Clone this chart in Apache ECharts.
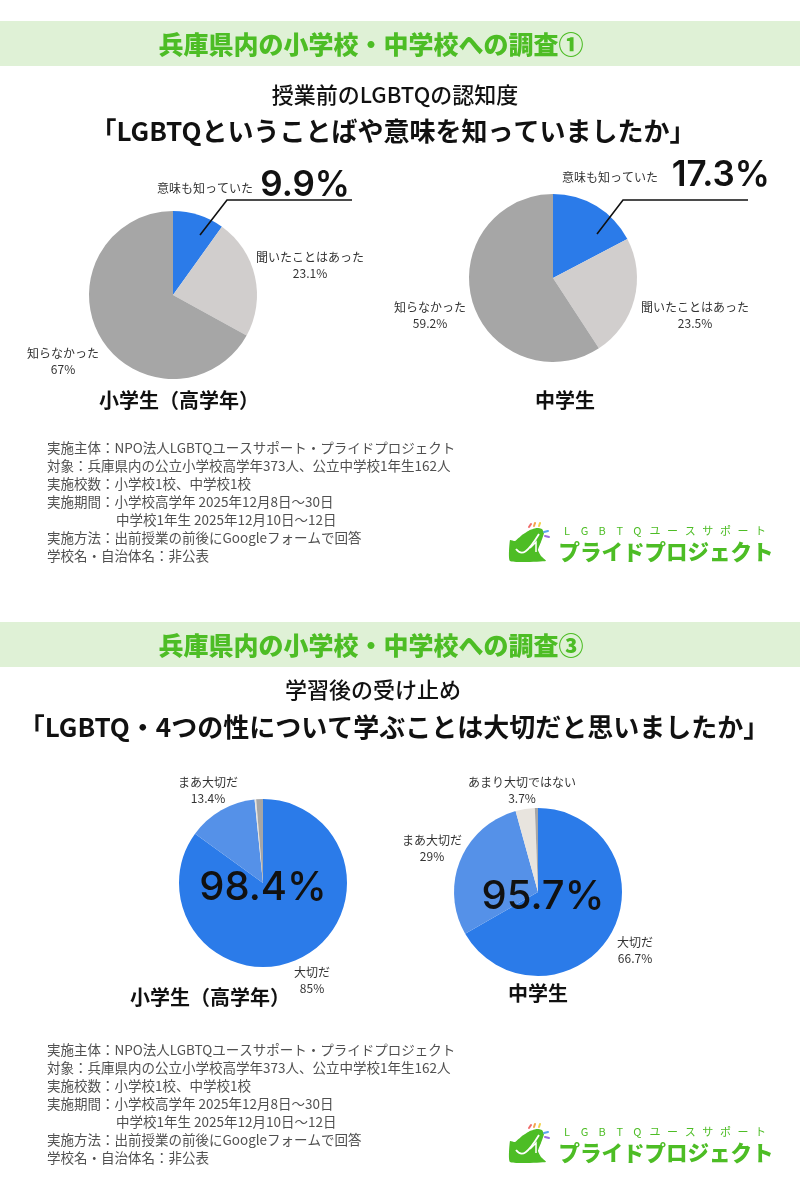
<!DOCTYPE html>
<html><head><meta charset="utf-8">
<script src="https://cdn.jsdelivr.net/npm/echarts@6/dist/echarts.min.js"></script>
<style>html,body{margin:0;padding:0;background:#fff}#c{width:800px;height:1200px}</style>
</head><body><div id="c"></div>
<script>
// ---- data ----
const awarenessNames = ['意味も知っていた', '聞いたことはあった', '知らなかった'];
const awarenessElementary = [9.9, 23.1, 67];
const awarenessJunior = [17.3, 23.5, 59.2];
const importanceNames = ['大切だ', 'まあ大切だ', 'あまり大切ではない', '大切ではない'];
const importanceElementary = [85, 13.4, 0.3, 1.3];
const importanceJunior = [66.7, 29, 3.7, 0.6];
const groupNames = ['小学生（高学年）', '中学生'];
const headerTitles = ['兵庫県内の小学校・中学校への調査①', '兵庫県内の小学校・中学校への調査③'];
const subTitles = ['授業前のLGBTQの認知度', '学習後の受け止め'];
const questions = ['「LGBTQということばや意味を知っていましたか」', '「LGBTQ・4つの性について学ぶことは大切だと思いましたか」'];
const noteLines = [
  '実施主体：NPO法人LGBTQユースサポート・プライドプロジェクト',
  '対象：兵庫県内の公立小学校高学年373人、公立中学校1年生162人',
  '実施校数：小学校1校、中学校1校',
  '実施期間：小学校高学年 2025年12月8日〜30日',
  '中学校1年生 2025年12月10日〜12日',
  '実施方法：出前授業の前後にGoogleフォームで回答',
  '学校名・自治体名：非公表'
];
const logoSmall = ['L','G','B','T','Q','ユ','ー','ス','サ','ポ','ー','ト'];
const logoBig = 'プライドプロジェクト';

// ---- style ----
const JP = '"Noto Sans CJK JP", "Noto Sans", sans-serif';
const NUM = 'Inter, Roboto, sans-serif';
const GREEN = '#4dbd25';
const BAND = '#dff1d6';
const awarenessColors = ['#2b7be9', '#d1cecd', '#a6a6a6'];
const importanceColors = ['#2b7be9', '#5591e8', '#e8e4de', '#a6a6a6'];
const R = 84;

function pieSeries(center, names, values, colors, labelPos, bigFirst) {
  return {
    type: 'pie', center: center, radius: R, startAngle: 90, clockwise: true,
    silent: true, animation: false, avoidLabelOverlap: false,
    itemStyle: { borderWidth: 0 },
    label: {
      show: true, fontFamily: JP, fontSize: 12, color: '#333', lineHeight: 16,
      formatter: p => (bigFirst && p.dataIndex === 0) ? p.name : p.name + '\n' + p.value + '%'
    },
    labelLine: { show: false },
    labelLayout: p => {
      const pos = labelPos[p.dataIndex];
      return pos ? { x: pos[0], y: pos[1], align: 'center', verticalAlign: 'middle' } : {};
    },
    data: names.map((n, i) => ({
      name: n, value: values[i], itemStyle: { color: colors[i] },
      label: { show: labelPos[i] != null }
    }))
  };
}

const g = [];
function txt(x, y, text, size, opts) {
  g.push({
    type: 'text', x: x, y: y, z: 100,
    style: Object.assign({ text: text, font: (opts && opts.font) || ('400 ' + size + 'px ' + JP),
      fill: '#222', textAlign: 'center', textVerticalAlign: 'middle' }, (opts && opts.style) || {})
  });
}

function section(i, dy) {
  g.push({ type: 'rect', shape: { x: 0, y: 21 + dy, width: 800, height: 45 }, style: { fill: BAND }, z: 1 });
  txt(371, 44 + dy, headerTitles[i], 25, { font: '900 25px ' + JP, style: { fill: GREEN } });
  txt(i === 0 ? 395 : 373, 95 + dy - (i === 0 ? 0 : 6), subTitles[i], 22, { font: '500 22px ' + JP, style: { fill: '#111' } });
  txt(i === 0 ? 393 : 394, 131 + dy - (i === 0 ? 0 : 5), questions[i], 26, { font: '700 26px ' + JP, style: { fill: '#111' } });
}
function notesBlock(y0) {
  noteLines.forEach((t, k) => {
    txt(k === 4 ? 116 : 47, y0 + k * 18, t, 13, { font: '400 13.5px ' + JP, style: { fill: '#505050', textAlign: 'left' } });
  });
}
function logo(dy) {
  g.push({ type: 'polygon', z: 100, y: dy, shape: { smooth: 0.15, points: [[510, 540], [515, 541], [522, 535], [530, 530], [537, 528], [542, 529], [544, 533], [541, 542], [538, 550], [541, 556], [546, 561], [510, 561]] },
    style: { fill: GREEN } });
  g.push({ type: 'bezierCurve', z: 101, y: dy, shape: { x1: 516, y1: 549, cpx1: 522, cpy1: 557, x2: 539, y2: 534, cpx2: 528, cpy2: 552 },
    style: { stroke: '#fff', lineWidth: 1.8, fill: null } });
  g.push({ type: 'polyline', z: 101, y: dy, shape: { points: [[530, 548], [536, 542], [536, 552]] },
    style: { stroke: '#fff', lineWidth: 1.5, fill: null } });
  const dash = [['#f06a6a', 529, 527, 531, 524], ['#f5a34a', 534, 526, 535, 523], ['#f3d24a', 539, 526, 540, 523],
                ['#5aa6ee', 544, 532, 548, 531], ['#9b6be0', 545, 536, 549, 537]];
  dash.forEach(d => g.push({ type: 'line', z: 100, y: dy, shape: { x1: d[1], y1: d[2], x2: d[3], y2: d[4] },
    style: { stroke: d[0], lineWidth: 2, lineCap: 'round' } }));
  logoSmall.forEach((c, k) => txt(567 + k * 17.6, 531 + dy, c, 10, { font: '400 11px ' + JP, style: { fill: GREEN } }));
  txt(666, 552 + dy, logoBig, 21, { font: '900 21.5px ' + JP, style: { fill: GREEN } });
}

section(0, 0);
section(1, 601);

// big numbers and leader lines
g.push({ type: 'polyline', z: 100, shape: { points: [[200, 235], [227, 200], [352, 200]] }, style: { stroke: '#111', lineWidth: 1.6, fill: null } });
g.push({ type: 'polyline', z: 100, shape: { points: [[597, 234], [623, 200], [748, 200]] }, style: { stroke: '#111', lineWidth: 1.6, fill: null } });
txt(350, 185, awarenessElementary[0] + '%', 34, { font: '600 35px ' + NUM, style: { fill: '#111', textAlign: 'right' } });
txt(770, 175, awarenessJunior[0] + '%', 34, { font: '600 35px ' + NUM, style: { fill: '#111', textAlign: 'right' } });
const agreeE = Math.round((importanceElementary[0] + importanceElementary[1]) * 10) / 10;
const agreeJ = Math.round((importanceJunior[0] + importanceJunior[1]) * 10) / 10;
txt(263, 888, agreeE + '%', 40, { font: '500 40px ' + NUM, style: { fill: '#111' } });
txt(543, 897, agreeJ + '%', 40, { font: '500 40px ' + NUM, style: { fill: '#111' } });

// group labels
txt(179, 400, groupNames[0], 20, { font: '700 20px ' + JP, style: { fill: '#111' } });
txt(565, 400, groupNames[1], 20, { font: '700 20px ' + JP, style: { fill: '#111' } });
txt(210, 997, groupNames[0], 20, { font: '700 20px ' + JP, style: { fill: '#111' } });
txt(538, 993, groupNames[1], 20, { font: '700 20px ' + JP, style: { fill: '#111' } });

notesBlock(448);
notesBlock(1050);
logo(0);
logo(601);

const chart = echarts.init(document.getElementById('c'), null, { renderer: 'canvas' });
chart.setOption({
  backgroundColor: '#fff',
  animation: false,
  graphic: { elements: g },
  series: [
    pieSeries([173, 295], awarenessNames, awarenessElementary, awarenessColors,
      [[205, 188], [310, 265], [63, 361]], true),
    pieSeries([553, 278], awarenessNames, awarenessJunior, awarenessColors,
      [[610, 177], [695, 315], [430, 315]], true),
    pieSeries([263, 883], importanceNames, importanceElementary, importanceColors,
      [[312, 980], [208, 790], null, null], false),
    pieSeries([538, 892], importanceNames, importanceJunior, importanceColors,
      [[635, 950], [432, 848], [522, 790], null], false)
  ]
});
</script></body></html>
